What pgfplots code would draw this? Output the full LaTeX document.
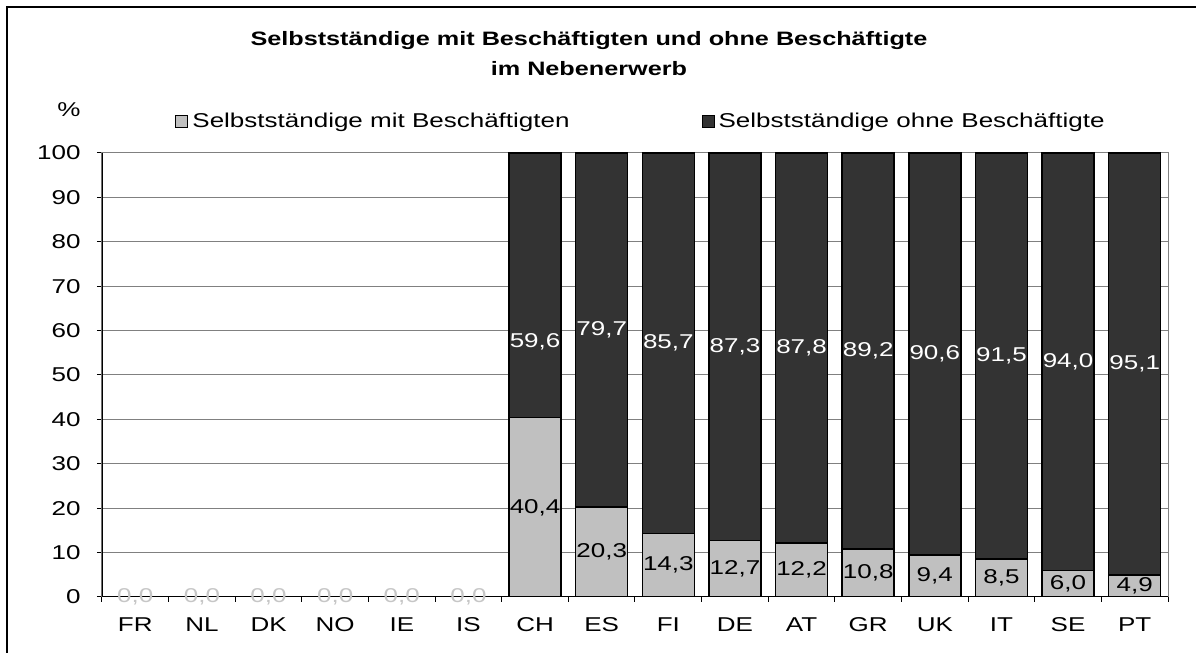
\documentclass[border=0pt]{standalone}
\usepackage{fontspec}
\setmainfont{Liberation Sans}[FakeStretch=1.3]
\usepackage{pgfplots}
\pgfplotsset{compat=1.18}
\usepackage{pgfplotstable}
\definecolor{barlight}{HTML}{C0C0C0}
\definecolor{bardark}{HTML}{333333}
\definecolor{gridgray}{HTML}{808080}

% x  mit  ohne  ly (label pos lower)  uy (label pos upper)
\pgfplotstableread{
x mit ohne ly uy
0 0 0 0 0
1 0 0 0 0
2 0 0 0 0
3 0 0 0 0
4 0 0 0 0
5 0 0 0 0
6 40.4 59.6 20.2 57.4
7 20.3 79.7 10.15 60.15
8 14.3 85.7 7.15 57.15
9 12.7 87.3 6.35 56.35
10 12.2 87.8 6.1 56.1
11 10.8 89.2 5.4 55.4
12 9.4 90.6 4.7 54.7
13 8.5 91.5 4.25 54.25
14 6.0 94.0 3.0 53.0
15 4.9 95.1 2.45 52.45
}\datatable

\begin{document}
\begin{tikzpicture}[font=\fontsize{10}{12}\selectfont]
\path[use as bounding box] (-51pt,-28pt) rectangle (547pt,298.5pt);
\begin{axis}[
  at={(0,0)}, anchor=south west,
  scale only axis, width=533pt, height=222pt,
  xmin=-0.5, xmax=15.5, ymin=0, ymax=100,
  xtick={0,...,15},
  xticklabels={FR,NL,DK,NO,IE,IS,CH,ES,FI,DE,AT,GR,UK,IT,SE,PT},
  tick align=outside,
  tick pos=left,
  major tick length=2.5pt,
  x tick style={draw=none},
  extra x ticks={-0.5,0.5,...,15.5},
  extra x tick labels={},
  extra x tick style={x tick style={draw=black, line width=0.5pt}},
  ytick={0,10,...,100},
  y tick style={black, line width=0.5pt},
  ymajorgrids,
  major grid style={gridgray, line width=0.5pt},
  axis line style={gridgray, line width=0.5pt},
  yticklabel style={inner sep=0pt, xshift=-8pt},
  xticklabel style={inner sep=0pt, yshift=-7.5pt},
  /pgf/number format/assume math mode=true,
  title={Selbstständige mit Beschäftigten und ohne Beschäftigte\\im Nebenerwerb},
  title style={at={(0.4568,1.196)}, anchor=center, align=center,
    font=\bfseries\fontsize{9.7}{15}\selectfont},
  ylabel={\%},
  ylabel style={rotate=-90, at={(-0.031,1.097)}, anchor=center},
  legend columns=2,
  legend cell align=left,
  legend style={draw=none, fill=none, at={(0.0685,1.07)}, anchor=west,
    inner sep=0pt, /tikz/every even column/.append style={column sep=64pt}},
]
\addlegendimage{legend image code/.code={\draw[fill=barlight,draw=black,line width=0.5pt] (0pt,-3pt) rectangle (6pt,3pt);}}
\addlegendentry{Selbstständige mit Beschäftigten}
\addlegendimage{legend image code/.code={\draw[fill=bardark,draw=black,line width=0.5pt] (0pt,-3pt) rectangle (6pt,3pt);}}
\addlegendentry{Selbstständige ohne Beschäftigte}

\addplot[ybar, bar width=26pt, bar shift=0pt, fill=bardark, draw=black,
  line width=0.8pt, restrict x to domain=5.5:15.5, forget plot]
  table[x=x, y expr=\thisrow{mit}+\thisrow{ohne}] {\datatable};
\addplot[ybar, bar width=26pt, bar shift=0pt, fill=barlight, draw=black,
  line width=0.8pt, restrict x to domain=5.5:15.5, forget plot]
  table[x=x, y=mit] {\datatable};

\addplot[draw=none, mark=none, forget plot, nodes near coords, point meta=explicit,
  restrict x to domain=5.5:15.5,
  nodes near coords style={anchor=center, text=black,
    /pgf/number format/.cd, fixed, fixed zerofill, precision=1, use comma, assume math mode=true}]
  table[x=x, y=ly, meta=mit] {\datatable};
\addplot[draw=none, mark=none, forget plot, nodes near coords, point meta=explicit,
  restrict x to domain=5.5:15.5,
  nodes near coords style={anchor=center, text=white,
    /pgf/number format/.cd, fixed, fixed zerofill, precision=1, use comma, assume math mode=true}]
  table[x=x, y=uy, meta=ohne] {\datatable};
\addplot[draw=none, mark=none, forget plot, nodes near coords, point meta=explicit,
  restrict x to domain=-1:5.5,
  nodes near coords style={anchor=center, text=gray!45,
    /pgf/number format/.cd, fixed, fixed zerofill, precision=1, use comma, assume math mode=true}]
  table[x=x, y=ly, meta=mit] {\datatable};

\draw[black, line width=0.6pt] (rel axis cs:0,1) -- (rel axis cs:0,0) -- (rel axis cs:1,0);
\end{axis}
\draw[black, line width=0.8pt] (-47.5pt,-60pt) -- (-47.5pt,295pt) -- (620pt,295pt);
\end{tikzpicture}
\end{document}
